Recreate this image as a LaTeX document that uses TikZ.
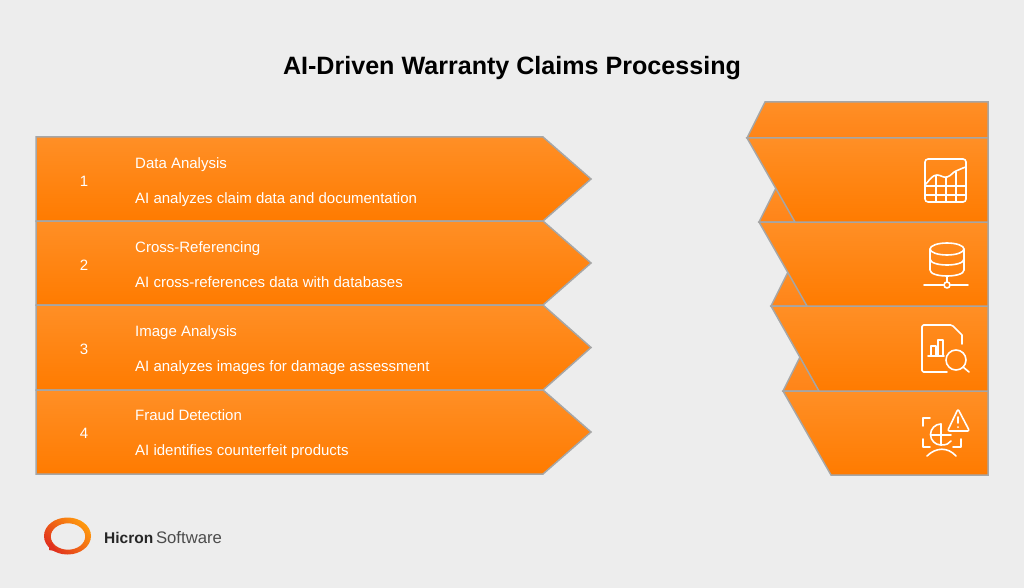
\documentclass[tikz,border=0pt]{standalone}
\usepackage{fontspec}
\setmainfont{Liberation Sans}
\tikzset{
  band/.style={draw=edgegrey, line width=1.5pt, line join=miter, top color=bandtop, bottom color=bandbottom},
  cap piece/.style={draw=edgegrey, line width=1.5pt, line join=miter, top color=bandtop, bottom color=capbottom},
  label/.style={text=white, font=\fontsize{15}{18}\selectfont, anchor=base west, inner sep=0pt},
  number/.style={text=white, font=\fontsize{15}{18}\selectfont, anchor=base, inner sep=0pt},
  icon/.style={draw=white, line width=1.6pt, line cap=round, line join=round},
}
\definecolor{edgegrey}{HTML}{A6A6A6}
\definecolor{bandtop}{HTML}{FF8F26}
\definecolor{bandbottom}{HTML}{FF7B00}
\definecolor{capbottom}{HTML}{FF8418}
\definecolor{paper}{HTML}{EDEDED}
\definecolor{logored}{HTML}{E0301E}
\definecolor{logoorange}{HTML}{FF9A0D}
\begin{document}
\begin{tikzpicture}[x=1pt,y=-1pt]
  \useasboundingbox (0,0) rectangle (1024,588);
  \fill[paper] (0,0) rectangle (1024,588);

  \node at (512,68) (title) {\fontsize{25.1}{29}\selectfont\bfseries AI-Driven Warranty Claims Processing};

  % left bands
  \foreach \top/\bot in {137/221,221/305,305/390,390/474}
    \path[band] (36,\top) -- (543,\top) -- (591,{(\top+\bot)/2}) -- (543,\bot) -- (36,\bot) -- cycle;

  \node[number] at (84,186) (num1) {1};
  \node[number] at (84,270) (num2) {2};
  \node[number] at (84,354) (num3) {3};
  \node[number] at (84,438) (num4) {4};
  \node[label] at (135,168) (head1) {Data Analysis};
  \node[label] at (135,203) (text1) {AI analyzes claim data and documentation};
  \node[label] at (135,252) (head2) {Cross-Referencing};
  \node[label] at (135,287) (text2) {AI cross-references data with databases};
  \node[label] at (135,336) (head3) {Image Analysis};
  \node[label] at (135,371) (text3) {AI analyzes images for damage assessment};
  \node[label] at (135,420) (head4) {Fraud Detection};
  \node[label] at (135,455) (text4) {AI identifies counterfeit products};

  % right bands, lowest first
  \foreach \left/\top/\bot in {783/391/475,771/306/391,759/222/306,747/138/222} {
    \path[cap piece] ({\left+18},{\top-36}) -- (988,{\top-36}) -- (988,\top) -- (\left,\top) -- cycle;
    \path[band] (\left,\top) -- (988,\top) -- (988,\bot) -- ({\left+48},\bot) -- cycle;
  }

  % chart icon
  \draw[icon] (925,159) [rounded corners=3pt] rectangle (966,202);
  \draw[icon] (926,184) .. controls (930,179) and (933,175) .. (937,175) .. controls (941,175) and (943,178) .. (947,177) .. controls (951,176) and (953,172) .. (956,171) .. controls (959,170) and (962,168) .. (966,167);
  \draw[icon] (926,186) -- (966,186) (925,195) -- (966,195);
  \draw[icon] (936,176) -- (936,202) (946,178) -- (946,202) (956,172) -- (956,202);

  % database icon
  \draw[icon] (947,249) ellipse (17 and 6);
  \draw[icon] (930,249) -- (930,270) .. controls (930,278) and (964,278) .. (964,270) -- (964,249);
  \draw[icon] (930,259) .. controls (930,267) and (964,267) .. (964,259);
  \draw[icon] (924,285) -- (943.5,285) (950.5,285) -- (968,285) (947,276) -- (947,282);
  \draw[icon] (947,285) circle (3);

  % report icon
  \draw[icon] (947,372) -- (925,372) [rounded corners=1.5pt] -- (922,372) -- (922,325) -- (952,325) [sharp corners] -- (962,335) -- (962,344);
  \draw[icon] (928,356) -- (944,356);
  \draw[icon] (931,356) -- (931,346) -- (936,346) -- (936,356);
  \draw[icon] (938,356) -- (938,340) -- (943,340) -- (943,356);
  \draw[icon] (956,360) circle (10);
  \draw[icon] (963,367) -- (969,372);

  % fraud icon
  \draw[icon] (930,418) -- (923,418) -- (923,426) (923,439) -- (923,447) -- (930,447);
  \draw[icon] (953,447) -- (961,447) -- (961,439);
  \draw[icon] (958,409) [rounded corners=2pt] -- (969.5,431) -- (947.5,431) -- cycle;
  \draw[icon] (958,417) -- (958,423) (958,427) -- (958,427.2);
  \draw[icon] (941,424) arc (-90:-270:10.5) .. controls (946,445) and (949,444) .. (951,441);
  \draw[icon] (941,424) -- (941,445) (931,435) -- (951,435);
  \draw[icon] (927,456) .. controls (936,447) and (948,447) .. (956,456);

  % logo
  \path[even odd rule, left color=logored, right color=logoorange, shading angle=135]
    (67.5,536) ellipse (23.5 and 18.5) (68,536.5) ellipse (17.2 and 13.2);
  \fill[logored] (49,543) -- (49,550) -- (58,551.5) -- (54,547) -- (52,543) -- cycle;
  \node[anchor=base west, inner sep=0pt, text=black!85] at (104,543) (logotext) {\fontsize{15.5}{18}\selectfont\textbf{Hicron}{\fontsize{16.7}{18}\selectfont\color{black!70}\,Software}};
\end{tikzpicture}
\end{document}
